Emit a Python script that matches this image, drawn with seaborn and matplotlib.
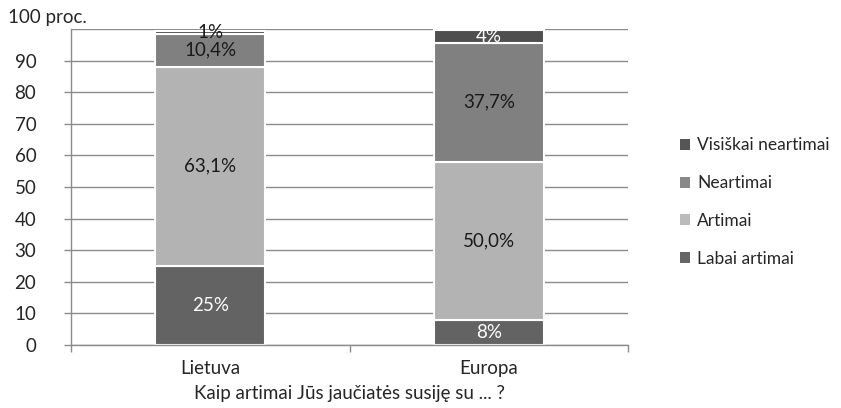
import matplotlib
matplotlib.use("Agg")
import matplotlib.pyplot as plt
import seaborn as sns
import numpy as np
from matplotlib.patches import Patch

categories = ["Lietuva", "Europa"]
series_names = ["Labai artimai", "Artimai", "Neartimai", "Visiškai neartimai"]
labai_artimai = [25.0, 8.0]
artimai = [63.1, 50.0]
neartimai = [10.4, 37.7]
visiskai_neartimai = [1.0, 4.0]
labels_labai = ["25%", "8%"]
labels_artimai = ["63,1%", "50,0%"]
labels_neartimai = ["10,4%", "37,7%"]
labels_visiskai = ["1%", "4%"]
yticks = [0, 10, 20, 30, 40, 50, 60, 70, 80, 90]

sns.set_style("white")
plt.rcParams['font.family'] = ['Lato', 'DejaVu Sans']

FS = 13.5
colors = ["#636363", "#b3b3b3", "#808080", "#4f4f4f"]
legend_colors = ["#666666", "#bbbbbb", "#888888", "#555555"]
text_colors = [["white", "white"], ["#1a1a1a", "#1a1a1a"],
               ["#1a1a1a", "#1a1a1a"], ["#1a1a1a", "white"]]
series = [labai_artimai, artimai, neartimai, visiskai_neartimai]
labels = [labels_labai, labels_artimai, labels_neartimai, labels_visiskai]

fig = plt.figure(figsize=(8.41, 4.08), dpi=100)
ax = fig.add_axes([71/841, (408-345)/408, (628-71)/841, (345-29)/408])

ax.set_axisbelow(True)
for yv in list(yticks) + [100]:
    ax.axhline(yv, color="#8c8c8c", lw=1.0, zorder=0)

bottom = np.zeros(len(categories))
for vals, col, labs, tcs in zip(series, colors, labels, text_colors):
    sns.barplot(x=categories, y=vals, bottom=bottom, color=col, width=0.395,
                edgecolor="white", linewidth=1.5, ax=ax, zorder=2, saturation=1)
    for i, (v, lab) in enumerate(zip(vals, labs)):
        ax.text(i, bottom[i] + v / 2, lab, ha="center", va="center",
                color=tcs[i], fontsize=FS, zorder=3)
    bottom = bottom + np.array(vals)

ax.set_ylim(0, 100)
ax.set_xlim(-0.5, 1.5)
ax.set_yticks(yticks)
ax.set_yticklabels([str(t) for t in yticks], fontsize=FS)
ax.tick_params(axis="y", length=5, width=1, color="#8c8c8c", pad=20, direction="out", left=True)
ax.set_xticks([0, 1])
ax.set_xticklabels(categories, fontsize=FS)
ax.set_xticks([-0.5, 0.5, 1.5], minor=True)
ax.tick_params(axis="x", which="major", length=0, pad=11)
ax.tick_params(axis="x", which="minor", length=5, width=1, color="#8c8c8c", direction="out", bottom=True)

for s in ["top", "right"]:
    ax.spines[s].set_visible(False)
for s in ["left", "bottom"]:
    ax.spines[s].set_color("#8c8c8c")
    ax.spines[s].set_linewidth(1.0)

ax.set_xlabel("")
ax.set_ylabel("")
fig.text(350/841, 1 - 394/408, "Kaip artimai Jūs jaučiatės susiję su ... ?",
         fontsize=FS, ha="center", va="center")
fig.text(8/841, 1 - 18/408, "100 proc.", fontsize=FS, ha="left", va="center")

handles = [Patch(facecolor=c, edgecolor="none") for c in legend_colors]
leg = fig.legend(handles[::-1], series_names[::-1], loc="center left",
                 bbox_to_anchor=(664/841, 1 - 202/408), frameon=False,
                 fontsize=12.5, handlelength=0.6, handleheight=0.6,
                 handletextpad=0.4, labelspacing=1.25)

fig.savefig("out.png", dpi=100)
